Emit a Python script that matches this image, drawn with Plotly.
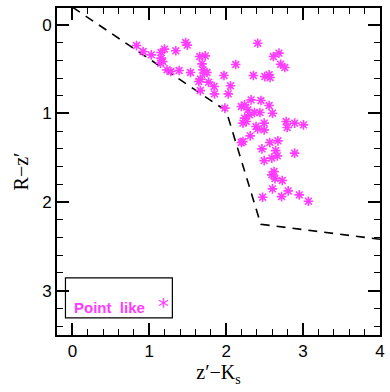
import plotly.graph_objects as go

# Point-like sources: z'-Ks (x) and R-z' (y)
pt_x = [0.834, 0.92, 1.026, 1.153, 1.197, 1.153, 1.175, 1.146, 1.345, 1.473, 1.494, 1.23, 1.281,
        1.388, 1.536, 1.656, 1.728, 1.686, 1.699, 1.715, 1.75, 1.664, 1.644, 1.771, 1.843, 1.664,
        1.848, 1.971, 2.056, 2.027, 1.983, 2.124, 2.41, 2.354, 2.503, 2.558, 2.571, 2.614, 2.686,
        2.708, 2.762, 2.197, 2.239, 2.282, 2.324, 2.452, 2.558, 2.303, 2.367, 2.439, 2.602, 2.218,
        2.261, 2.388, 2.494, 2.494, 2.78, 2.793, 2.89, 3.005, 2.312, 2.239, 2.41, 2.197, 2.218,
        2.567, 2.673, 2.465, 2.644, 2.89, 2.494, 2.593, 2.665, 2.622, 2.593, 2.635, 2.729, 2.602,
        2.806, 2.95, 3.069, 2.72, 2.474]
pt_y = [0.234, 0.301, 0.339, 0.313, 0.274, 0.376, 0.414, 0.432, 0.293, 0.2, 0.229, 0.508, 0.527,
        0.516, 0.538, 0.358, 0.35, 0.44, 0.508, 0.545, 0.538, 0.613, 0.64, 0.647, 0.696, 0.742,
        0.779, 0.572, 0.688, 0.779, 0.94, 0.448, 0.207, 0.572, 0.584, 0.564, 0.595, 0.358, 0.319,
        0.444, 0.482, 0.922, 0.903, 0.959, 0.847, 0.854, 0.911, 1.016, 0.99, 0.99, 0.997, 1.109,
        1.091, 1.148, 1.109, 1.185, 1.091, 1.159, 1.109, 1.129, 1.253, 1.053, 1.174, 1.328, 1.317,
        1.328, 1.309, 1.4, 1.419, 1.448, 1.532, 1.504, 1.479, 1.656, 1.693, 1.735, 1.757, 1.851,
        1.874, 1.919, 1.99, 1.938, 1.945]

# Dashed selection boundary
line_x = [0.0, 2.0, 2.45, 4.0]
line_y = [-0.2, 0.97, 2.25, 2.42]

x_range = [-0.2, 4.0]
y_range = [3.5, -0.19]
x_ticks = [0, 1, 2, 3, 4]
y_ticks = [0, 1, 2, 3]
legend_label = "Point  like"

MAG = "#ff3cff"

fig = go.Figure()
fig.add_trace(go.Scatter(x=line_x, y=line_y, mode="lines",
                         line=dict(color="black", width=1.6, dash="9px,7px"),
                         showlegend=False, hoverinfo="skip"))
fig.add_trace(go.Scatter(x=pt_x, y=pt_y, mode="markers",
                         marker=dict(symbol="asterisk-open", size=8, color=MAG,
                                     line=dict(color=MAG, width=1.6)),
                         showlegend=False))

# legend box
fig.add_shape(type="rect", xref="x", yref="y", x0=-0.09, x1=1.3, y0=2.855, y1=3.307,
              line=dict(color="black", width=1.2))
fig.add_annotation(xref="x", yref="y", x=0.0, y=3.19, text="<b>" + legend_label + "</b>",
                   showarrow=False, xanchor="left", yanchor="middle",
                   font=dict(family="Liberation Sans", size=15, color=MAG))
fig.add_annotation(xref="x", yref="y", x=1.19, y=3.18, text="*",
                   showarrow=False, xanchor="center", yanchor="middle",
                   font=dict(family="DejaVu Sans", size=22, color=MAG))

axis_common = dict(showgrid=False, zeroline=False, showline=True, linecolor="black",
                   linewidth=2, mirror="ticks", ticks="inside", ticklen=12, tickwidth=1.5,
                   tickcolor="black",
                   tickfont=dict(family="Liberation Sans", size=17, color="black"))

fig.update_xaxes(range=x_range, tickvals=x_ticks, ticktext=[str(v) for v in x_ticks],
                 minor=dict(dtick=0.2, tick0=0, ticks="inside", ticklen=6, tickwidth=1.2,
                            tickcolor="black"),
                 title=dict(text="z\u2032\u2212K<sub>s</sub>", standoff=4,
                            font=dict(family="Liberation Serif", size=20, color="black")),
                 **axis_common)
fig.update_yaxes(range=y_range, tickvals=y_ticks, ticktext=[str(v) for v in y_ticks],
                 minor=dict(dtick=0.2, tick0=0, ticks="inside", ticklen=6, tickwidth=1.2,
                            tickcolor="black"),
                 title=dict(text="R\u2212z\u2032", standoff=8,
                            font=dict(family="Liberation Serif", size=20, color="black")),
                 **axis_common)

fig.update_layout(width=390, height=392, margin=dict(l=57, r=5, t=8, b=57),
                  plot_bgcolor="white", paper_bgcolor="white", showlegend=False)

fig.write_html("out.html")
